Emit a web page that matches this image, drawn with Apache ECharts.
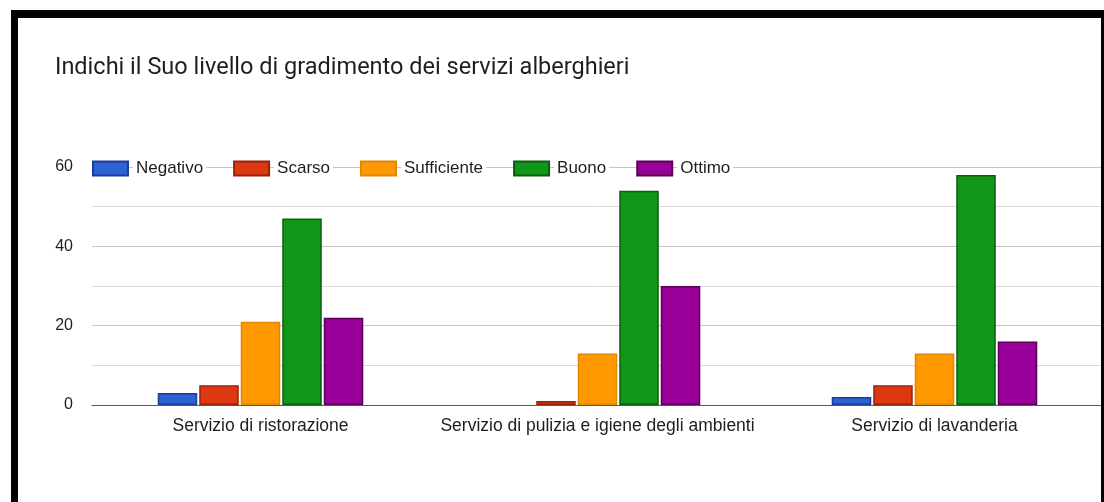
<!DOCTYPE html>
<html>
<head>
<meta charset="utf-8">
<script src="https://cdn.jsdelivr.net/npm/echarts@6/dist/echarts.min.js"></script>
<style>
  html, body { margin: 0; padding: 0; background: #fff; }
  #chart { width: 1104px; height: 502px; }
</style>
</head>
<body>
<div id="chart"></div>
<script>
// Survey: satisfaction with hotel services
const titleText = 'Indichi il Suo livello di gradimento dei servizi alberghieri';
const categories = ['Servizio di ristorazione', 'Servizio di pulizia e igiene degli ambienti', 'Servizio di lavanderia'];
const seriesNames = ['Negativo', 'Scarso', 'Sufficiente', 'Buono', 'Ottimo'];
const negativo = [3, 0, 2];
const scarso = [5, 1, 5];
const sufficiente = [21, 13, 13];
const buono = [47, 54, 58];
const ottimo = [22, 30, 16];
const yTicks = [0, 20, 40, 60];

const fills = ['#2d62d2', '#dc3912', '#ff9900', '#109618', '#990099'];
const edges = ['#1a3c9e', '#9a2108', '#e38600', '#0a5e10', '#5c005c'];
const values = [negativo, scarso, sufficiente, buono, ottimo];

const labelFont = '"Liberation Sans", Arial, sans-serif';

const chart = echarts.init(document.getElementById('chart'), null, { renderer: 'canvas' });

chart.setOption({
  animation: false,
  backgroundColor: '#fff',
  title: {
    text: titleText,
    left: 50,
    top: 51,
    textStyle: { fontFamily: 'Roboto', fontWeight: 'normal', fontSize: 23.5, color: '#1e1e1e' }
  },
  legend: {
    left: 92,
    top: 159,
    padding: 0,
    itemWidth: 35,
    itemHeight: 14,
    itemGap: 27,
    icon: 'rect',
    data: seriesNames,
    textStyle: {
      fontFamily: labelFont,
      fontSize: 17,
      color: '#1e1e1e',
      backgroundColor: '#fff',
      padding: [1, 3, 1, 3]
    }
  },
  grid: { left: 92, right: 1, top: 167, bottom: 97 },
  xAxis: {
    type: 'category',
    data: categories,
    axisTick: { show: false },
    axisLine: { show: true, lineStyle: { color: '#5a5a5a', width: 1 } },
    axisLabel: { interval: 0, fontFamily: labelFont, fontSize: 17.5, color: '#1e1e1e', margin: 12 }
  },
  yAxis: {
    type: 'value',
    min: yTicks[0],
    max: yTicks[yTicks.length - 1],
    interval: 20,
    axisLine: { show: false },
    axisTick: { show: false },
    axisLabel: { fontFamily: labelFont, fontSize: 16, color: '#1e1e1e', margin: 19 },
    splitLine: { lineStyle: { color: '#c6c6c6', width: 1 } },
    minorTick: { show: false, splitNumber: 2 },
    minorSplitLine: { show: true, lineStyle: { color: '#dadada', width: 1 } }
  },
  series: seriesNames.map((name, i) => ({
    name,
    type: 'bar',
    // a zero-height bar draws no outline
    data: values[i].map(v => (v === 0 ? { value: v, itemStyle: { borderWidth: 0 } } : v)),
    barCategoryGap: '39%',
    barGap: '5%',
    itemStyle: { color: fills[i], borderColor: edges[i], borderWidth: 1.5 }
  })),
  graphic: [
    // page frame
    { type: 'rect', shape: { x: 11, y: 10, width: 1093, height: 8 }, style: { fill: '#000' }, z: 100 },
    { type: 'rect', shape: { x: 11, y: 10, width: 7, height: 492 }, style: { fill: '#000' }, z: 100 },
    { type: 'rect', shape: { x: 1101, y: 10, width: 3, height: 492 }, style: { fill: '#000' }, z: 100 }
  ]
});
</script>
</body>
</html>
